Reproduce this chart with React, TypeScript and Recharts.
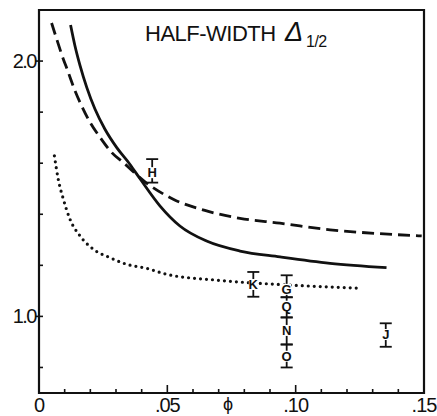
import React from 'react';
import { ComposedChart, Line, Scatter, XAxis, YAxis, ErrorBar, Customized, ReferenceArea } from 'recharts';

// Solid curve
const solidPhi = [0.0123, 0.014, 0.016, 0.0186, 0.0218, 0.0257, 0.0303, 0.0354, 0.0393, 0.0471, 0.0549, 0.0653, 0.0783, 0.0939, 0.1134, 0.1354];
const solidVal = [2.141, 2.06, 1.982, 1.897, 1.812, 1.733, 1.661, 1.596, 1.54, 1.433, 1.354, 1.295, 1.256, 1.233, 1.208, 1.191];

// Dashed curve
const dashedPhi = [0.0049, 0.0069, 0.0088, 0.0114, 0.014, 0.0166, 0.0199, 0.0238, 0.0283, 0.0328, 0.0413, 0.0523, 0.0653, 0.0783, 0.0939, 0.1134, 0.1328, 0.1491];
const dashedVal = [2.149, 2.086, 2.027, 1.956, 1.884, 1.825, 1.76, 1.701, 1.642, 1.603, 1.527, 1.459, 1.413, 1.384, 1.365, 1.339, 1.324, 1.315];

// Dotted curve
const dottedPhi = [0.006, 0.0075, 0.0095, 0.0121, 0.016, 0.0212, 0.0277, 0.0342, 0.042, 0.0497, 0.0692, 0.0991, 0.1257];
const dottedVal = [1.629, 1.537, 1.459, 1.38, 1.315, 1.263, 1.23, 1.204, 1.188, 1.165, 1.142, 1.122, 1.11];

// Lettered data points with error bars
const markerLabels = ['H', 'K', 'G', 'Q', 'N', 'O', 'J'];
const markerPhi = [0.0441, 0.0835, 0.0965, 0.0965, 0.0965, 0.0965, 0.1351];
const markerVal = [1.563, 1.125, 1.106, 1.04, 0.945, 0.844, 0.929];
const markerErrLow = [0.039, 0.048, 0.031, 0.044, 0.055, 0.044, 0.048];
const markerErrHigh = [0.053, 0.049, 0.055, 0.035, 0.051, 0.046, 0.044];

// Axes
const xTicks = [0, 0.01, 0.02, 0.03, 0.04, 0.05, 0.06, 0.07, 0.08, 0.09, 0.1, 0.11, 0.12, 0.13, 0.14, 0.15];
const xTickLabels = ['0', '', '', '', '', '.05', '', '', '', '', '.10', '', '', '', '', '.15'];
const yTicks = [0.8, 1.0, 1.2, 1.4, 1.6, 1.8, 2.0];
const yTickLabels = ['', '1.0', '', '', '', '', '2.0'];
const xDomain = [0, 0.15];
const yDomain = [0.7, 2.2];

const titleText = 'HALF-WIDTH';
const titleSymbol = 'Δ';
const titleSub = '1/2';
const xAxisTitle = 'ϕ';

const toPoints = (xs: number[], ys: number[]) => xs.map((x, i) => ({ phi: x, v: ys[i] }));
const solidData = toPoints(solidPhi, solidVal);
const dashedData = toPoints(dashedPhi, dashedVal);
const dottedData = toPoints(dottedPhi, dottedVal);
const markerData = markerLabels.map((label, i) => ({
  label,
  phi: markerPhi[i],
  v: markerVal[i],
  err: [markerErrLow[i], markerErrHigh[i]],
}));

const INK = '#111';
const FONT = '"Liberation Sans", Arial, sans-serif';

const BottomTick = (props: any) => {
  const { x, y, index } = props;
  const major = index % 5 === 0;
  const label = xTickLabels[index];
  return (
    <g>
      <line x1={x} y1={y} x2={x} y2={y - (major ? 8 : 4)} stroke={INK} strokeWidth={1.6} />
      {label ? (
        <text x={x} y={y + 19} textAnchor="middle" fontSize={20} fontFamily={FONT} fill={INK} letterSpacing={-1}>
          {label}
        </text>
      ) : null}
    </g>
  );
};

const TopTick = (props: any) => {
  const { x, y } = props;
  return <line x1={x} y1={y} x2={x} y2={y + 4} stroke={INK} strokeWidth={1.6} />;
};

const LeftTick = (props: any) => {
  const { x, y, index } = props;
  const label = yTickLabels[index];
  return (
    <g>
      <line x1={label ? x - 4 : x} y1={y} x2={x + 4} y2={y} stroke={INK} strokeWidth={1.6} />
      {label ? (
        <text x={x - 3} y={y + 7} textAnchor="end" fontSize={20} fontFamily={FONT} fill={INK} letterSpacing={-1.5}>
          {label}
        </text>
      ) : null}
    </g>
  );
};

const RightTick = (props: any) => {
  const { x, y, index } = props;
  const major = yTickLabels[index] !== '';
  return <line x1={x} y1={y} x2={x - (major ? 7 : 3)} y2={y} stroke={INK} strokeWidth={1.6} />;
};

const MarkerShape = (props: any) => {
  const { cx, cy, payload } = props;
  return (
    <g>
      <rect x={cx - 4.5} y={cy - 5.5} width={9} height={11} fill="#fff" />
      <text x={cx} y={cy + 4.7} textAnchor="middle" fontSize={13} fontWeight="bold" fontFamily={FONT} fill={INK}>
        {payload.label}
      </text>
    </g>
  );
};

const Labels = () => (
  <g>
    <text x={145} y={41} fontSize={22} fontFamily={FONT} fill={INK} letterSpacing={-0.5}>
      {titleText}
    </text>
    <text x={285} y={41} fontSize={27} fontFamily={FONT} fontStyle="italic" fill={INK}>
      {titleSymbol}
    </text>
    <text x={306} y={47} fontSize={16} fontFamily={FONT} fill={INK} letterSpacing={-0.5}>
      {titleSub}
    </text>
    <text x={228} y={410} textAnchor="middle" fontSize={18} fontFamily={FONT} fill={INK}>
      {xAxisTitle}
    </text>
  </g>
);

export default function App() {
  return (
    <div style={{ position: 'absolute', left: 0, top: 0, background: '#fff' }}>
      <ComposedChart width={437} height={416} margin={{ top: 10, right: 13, bottom: 0, left: 0 }}>
        <XAxis
          xAxisId="b"
          dataKey="phi"
          type="number"
          domain={xDomain}
          ticks={xTicks}
          interval={0}
          allowDataOverflow
          height={23}
          tickSize={0}
          tickMargin={0}
          tickLine={false}
          axisLine={{ stroke: INK, strokeWidth: 2 }}
          tick={<BottomTick />}
        />
        <XAxis
          xAxisId="t"
          orientation="top"
          type="number"
          domain={xDomain}
          ticks={xTicks}
          interval={0}
          allowDataOverflow
          height={0}
          tickSize={0}
          tickMargin={0}
          tickLine={false}
          axisLine={false}
          tick={<TopTick />}
        />
        <YAxis
          yAxisId="l"
          dataKey="v"
          type="number"
          domain={yDomain}
          ticks={yTicks}
          interval={0}
          allowDataOverflow
          width={39}
          tickSize={0}
          tickMargin={0}
          tickLine={false}
          axisLine={{ stroke: INK, strokeWidth: 2 }}
          tick={<LeftTick />}
        />
        <YAxis
          yAxisId="r"
          orientation="right"
          type="number"
          domain={yDomain}
          ticks={yTicks}
          interval={0}
          allowDataOverflow
          width={0}
          tickSize={0}
          tickMargin={0}
          tickLine={false}
          axisLine={false}
          tick={<RightTick />}
        />
        <ReferenceArea
          xAxisId="b"
          yAxisId="l"
          x1={xDomain[0]}
          x2={xDomain[1]}
          y1={yDomain[0]}
          y2={yDomain[1]}
          fill="none"
          fillOpacity={0}
          stroke={INK}
          strokeWidth={2.2}
          ifOverflow="visible"
        />
        <Line xAxisId="b" yAxisId="l" data={solidData} dataKey="v" type="monotone" stroke={INK} strokeWidth={2.8} dot={false} isAnimationActive={false} />
        <Line xAxisId="b" yAxisId="l" data={dashedData} dataKey="v" type="monotone" stroke={INK} strokeWidth={2.8} strokeDasharray="12 6" dot={false} isAnimationActive={false} />
        <Line xAxisId="b" yAxisId="l" data={dottedData} dataKey="v" type="monotone" stroke={INK} strokeWidth={3.2} strokeDasharray="0 6" strokeLinecap="round" dot={false} isAnimationActive={false} />
        <Scatter xAxisId="b" yAxisId="l" data={markerData} dataKey="v" shape={<MarkerShape />} isAnimationActive={false}>
          <ErrorBar dataKey="err" direction="y" width={6} stroke={INK} strokeWidth={1.8} isAnimationActive={false} />
        </Scatter>
        <Customized component={<Labels />} />
      </ComposedChart>
    </div>
  );
}
